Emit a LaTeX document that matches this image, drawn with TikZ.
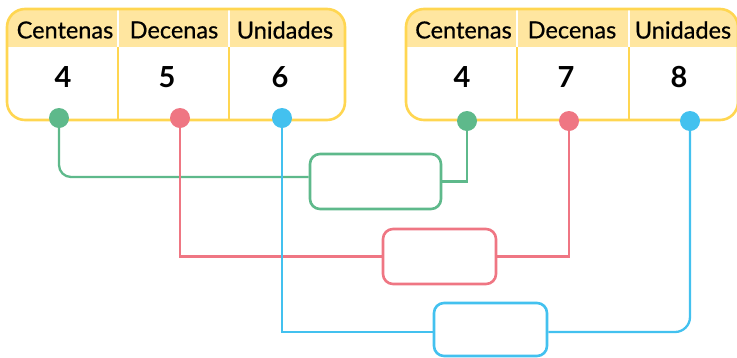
\documentclass[tikz,border=0pt]{standalone}
\usepackage{fontspec}
\setmainfont{Lato}
\newfontfamily\hdrfont{Lato}[FakeBold=0.6]
\definecolor{ybord}{HTML}{FFD651}
\definecolor{yfill}{HTML}{FFE6A0}
\definecolor{cg}{HTML}{5EB98B}
\definecolor{cr}{HTML}{EF7683}
\definecolor{cb}{HTML}{43C1EF}
\begin{document}
\begin{tikzpicture}[x=1pt,y=-1pt,
  hdr/.style={font=\hdrfont\fontsize{23.5}{25}\selectfont, inner sep=0pt, text=black},
  dig/.style={font=\fontsize{29}{31}\selectfont\bfseries, inner sep=0pt, text=black},
  dot/.style={circle, minimum size=20pt, inner sep=0pt},
  conn/.style={line width=2.3pt},
  ansbox/.style={draw, line width=2.6pt, rounded corners=10pt, fill=white, inner sep=0pt},
  divw/.style={white, line width=2pt},
  divy/.style={ybord, line width=2pt},
  frame/.style={ybord, line width=2.6pt, rounded corners=18pt}]
\useasboundingbox (0,0) rectangle (737,357);
% left table
\begin{scope}
  \clip[rounded corners=18pt] (7,9) rectangle (345,120);
  \fill[white] (7,9) rectangle (345,120);
  \fill[yfill] (7,9) rectangle (345,47);
\end{scope}
\draw[divw] (118,9) -- (118,47) (229,9) -- (229,47);
\draw[divy] (118,47) -- (118,120) (229,47) -- (229,120);
\draw[frame] (7,9) rectangle (345,120);
% right table
\begin{scope}
  \clip[rounded corners=18pt] (406,9) rectangle (738,120);
  \fill[white] (406,9) rectangle (738,120);
  \fill[yfill] (406,9) rectangle (738,47);
\end{scope}
\draw[divw] (517,9) -- (517,47) (629,9) -- (629,47);
\draw[divy] (517,47) -- (517,120) (629,47) -- (629,120);
\draw[frame] (406,9) rectangle (738,120);
% headers
\node[hdr] (lh1) at (65,30) {Centenas};
\node[hdr] (lh2) at (174,30) {Decenas};
\node[hdr] (lh3) at (285,30) {Unidades};
\node[hdr] (rh1) at (463.5,30) {Centenas};
\node[hdr] (rh2) at (572,30) {Decenas};
\node[hdr] (rh3) at (683,30) {Unidades};
% digits
\node[dig] (ld1) at (63,77) {4};
\node[dig] (ld2) at (167,77) {5};
\node[dig] (ld3) at (280,77) {6};
\node[dig] (rd1) at (462,77) {4};
\node[dig] (rd2) at (566,77) {7};
\node[dig] (rd3) at (679,77) {8};
% answer boxes
\node[ansbox, draw=cg, minimum width=131pt, minimum height=55pt] (gbox) at (375.5,181.5) {};
\node[ansbox, draw=cr, minimum width=113pt, minimum height=55pt] (rbox) at (439.5,256.5) {};
\node[ansbox, draw=cb, minimum width=113pt, minimum height=53pt] (bbox) at (490.5,329.5) {};
% dots
\node[dot, fill=cg] (gL) at (59,118) {};
\node[dot, fill=cr] (rL) at (180,118) {};
\node[dot, fill=cb] (bL) at (282,118) {};
\node[dot, fill=cg] (gR) at (467,121) {};
\node[dot, fill=cr] (rR) at (569,121) {};
\node[dot, fill=cb] (bR) at (690,121) {};
% connectors
\draw[conn, cg, rounded corners=12pt] (gL.center) |- ([yshift=4.5pt]gbox.west);
\draw[conn, cg] (gbox.east) -| (gR.center);
\draw[conn, cr] (rL.center) |- (rbox.west);
\draw[conn, cr] (rbox.east) -| (rR.center);
\draw[conn, cb] (bL.center) |- ([yshift=-2.5pt]bbox.west);
\draw[conn, cb, rounded corners=15pt] ([yshift=-2.5pt]bbox.east) -| (bR.center);
\end{tikzpicture}
\end{document}
